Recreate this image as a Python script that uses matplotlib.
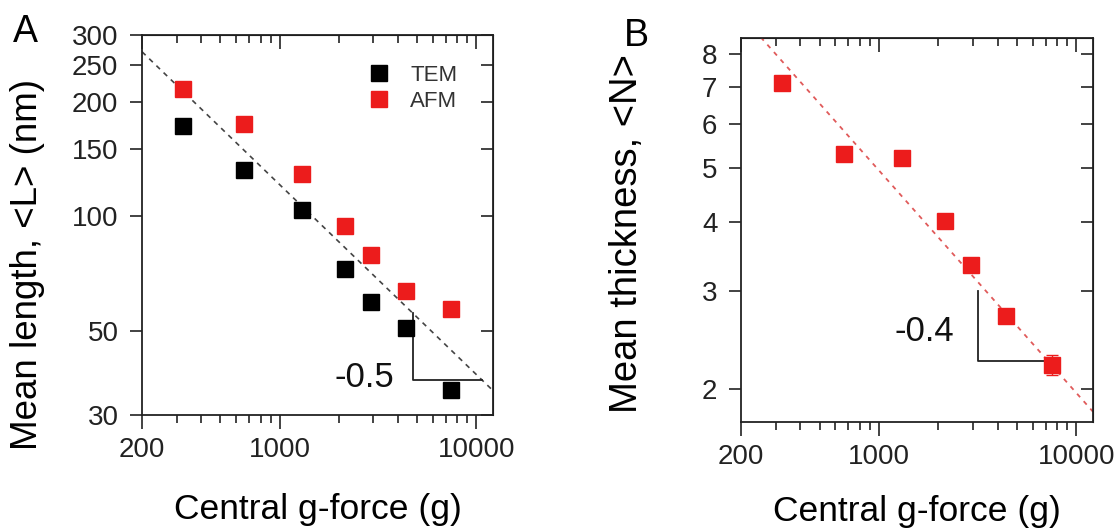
import matplotlib
matplotlib.use("Agg")
import matplotlib.pyplot as plt
import matplotlib.ticker as mticker
import numpy as np

plt.rcParams['font.family'] = ['Liberation Sans', 'DejaVu Sans']

# Panel A: mean length vs centrifugal force
g_force = [322, 658, 1298, 2160, 2926, 4405, 7464]
tem_length = [173, 132, 104, 72.8, 59.5, 50.7, 35.0]
tem_err = [3, 3, 2, 2, 1.5, 1.5, 1]
afm_length = [216, 175, 129.5, 94.2, 78.9, 63.6, 56.9]
afm_err = [3, 3, 3, 2, 2, 1.5, 1.5]

# Panel B: mean thickness vs centrifugal force
g_force_b = [324, 665, 1303, 2173, 2943, 4427, 7566]
thickness = [7.09, 5.29, 5.21, 4.01, 3.35, 2.71, 2.21]
thickness_err = [0.08, 0.08, 0.06, 0.05, 0.05, 0.05, 0.09]

# power-law guides
fit_a = (3833, -0.5)
fit_b = (78.4, -0.4)
fit_x = [200, 12150]
tri_a_x = [4760, 10700]
tri_b_x = [3180, 7180]
tri_b_top = 3.0

RED = '#ec1c1c'
INK = '#222222'
xticks = [200, 1000, 10000]


def style_axes(ax):
    ax.set_xscale('log')
    ax.set_yscale('log')
    ax.set_xlim(200, 12150)
    ax.xaxis.set_major_locator(mticker.FixedLocator(xticks))
    ax.xaxis.set_major_formatter(mticker.FixedFormatter([str(t) for t in xticks]))
    ax.xaxis.set_minor_locator(mticker.LogLocator(base=10, subs=np.arange(2, 10)))
    ax.xaxis.set_minor_formatter(mticker.NullFormatter())
    ax.yaxis.set_minor_locator(mticker.NullLocator())
    ax.tick_params(which='both', width=1.2, colors=INK, labelsize=20)
    ax.tick_params(axis='x', which='major', direction='out', length=10, pad=6)
    ax.tick_params(axis='x', which='minor', direction='out', length=6)
    ax.tick_params(axis='y', which='major', direction='out', length=9, pad=8)
    for s in ax.spines.values():
        s.set_linewidth(1.3)
        s.set_color(INK)
    ax.set_xlabel('Central g-force (g)', fontsize=25.5)


def mirror_ticks(ax):
    # top/right ticks point inward
    ax2 = ax.secondary_xaxis('top')
    ax2.xaxis.set_major_locator(mticker.FixedLocator(xticks))
    ax2.xaxis.set_minor_locator(mticker.LogLocator(base=10, subs=np.arange(2, 10)))
    ax2.xaxis.set_major_formatter(mticker.NullFormatter())
    ax2.xaxis.set_minor_formatter(mticker.NullFormatter())
    ax2.tick_params(which='major', direction='in', length=10, width=1.2, colors=INK)
    ax2.tick_params(which='minor', direction='in', length=6, width=1.2, colors=INK)
    ax3 = ax.secondary_yaxis('right')
    ax3.yaxis.set_major_locator(mticker.FixedLocator(ax.get_yticks()))
    ax3.yaxis.set_minor_locator(mticker.NullLocator())
    ax3.yaxis.set_major_formatter(mticker.NullFormatter())
    ax3.tick_params(which='major', direction='in', length=9, width=1.2, colors=INK)


fig = plt.figure(figsize=(11.2, 5.32), dpi=100)
axA = fig.add_axes([0.1268, 0.2199, 0.3134, 0.7143])
axB = fig.add_axes([0.6616, 0.2068, 0.3143, 0.7218])

# ---- Panel A
style_axes(axA)
axA.set_ylim(30, 300)
yt_a = [30, 50, 100, 150, 200, 250, 300]
axA.yaxis.set_major_locator(mticker.FixedLocator(yt_a))
axA.yaxis.set_major_formatter(mticker.FixedFormatter([str(t) for t in yt_a]))
fx = np.array(fit_x, dtype=float)
axA.plot(fx, fit_a[0] * fx ** fit_a[1], ls=(0, (3, 3)), color='#444444', lw=1.2, zorder=1)
axA.errorbar(g_force, tem_length, yerr=tem_err, fmt='none', ecolor='black',
             elinewidth=1, capsize=0, zorder=2)
axA.errorbar(g_force, afm_length, yerr=afm_err, fmt='none', ecolor=RED,
             elinewidth=1, capsize=0, zorder=2)
axA.plot(g_force, tem_length, 's', color='black', ms=11, label='TEM', zorder=3)
axA.plot(g_force, afm_length, 's', color=RED, ms=11, label='AFM', zorder=3)
ta = np.array(tri_a_x, dtype=float)
ya = fit_a[0] * ta ** fit_a[1]
axA.plot([ta[0], ta[0], ta[1]], [ya[0], ya[1], ya[1]], color=INK, lw=1.3)
axA.text(2705, 37.6, '-0.5', fontsize=25, ha='center', va='center', color='#111111')
leg = axA.legend(loc='upper right', bbox_to_anchor=(0.955, 0.975), frameon=False,
                 fontsize=16, handletextpad=0.9, labelspacing=0.25, handlelength=1.0)
for t in leg.get_texts():
    t.set_color('#333333')
axA.set_ylabel('Mean length, <L> (nm)', fontsize=26.5)
axA.yaxis.set_label_coords(-0.276, 0.395)
axA.xaxis.set_label_coords(0.5, -0.205)
mirror_ticks(axA)

# ---- Panel B
style_axes(axB)
axB.set_ylim(1.746, 8.56)
yt_b = [2, 3, 4, 5, 6, 7, 8]
axB.yaxis.set_major_locator(mticker.FixedLocator(yt_b))
axB.yaxis.set_major_formatter(mticker.FixedFormatter([str(t) for t in yt_b]))
axB.plot(fx, fit_b[0] * fx ** fit_b[1], ls=(0, (2.5, 3)), color='#e05a5a', lw=1.3, zorder=1)
axB.errorbar(g_force_b, thickness, yerr=thickness_err, fmt='s', color=RED, ms=11,
             elinewidth=1, capsize=4, zorder=3)
tb = np.array(tri_b_x, dtype=float)
yb = fit_b[0] * tb ** fit_b[1]
axB.plot([tb[0], tb[0], tb[1]], [tri_b_top, yb[1], yb[1]], color=INK, lw=1.3)
axB.text(1689, 2.535, '-0.4', fontsize=25, ha='center', va='center', color='#111111')
axB.set_ylabel('Mean thickness, <N>', fontsize=27.5)
axB.yaxis.set_label_coords(-0.273, 0.49)
axB.xaxis.set_label_coords(0.5, -0.19)
mirror_ticks(axB)

fig.text(0.023, 0.94, 'A', fontsize=27, ha='center', va='center')
fig.text(0.568, 0.932, 'B', fontsize=27, ha='center', va='center')

fig.savefig('out.png', dpi=100)
